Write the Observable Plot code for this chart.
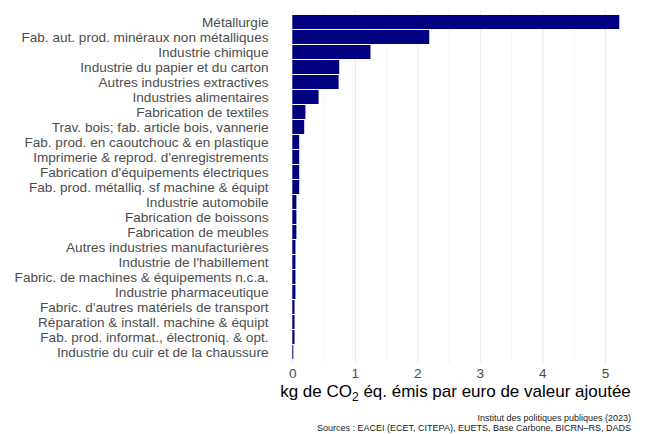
<!DOCTYPE html>
<html>
<head>
<meta charset="utf-8">
<script src="https://cdn.jsdelivr.net/npm/d3@7"></script>
<script src="https://cdn.jsdelivr.net/npm/@observablehq/plot@0.6"></script>
<style>
  body { margin: 0; background: #fff; font-family: "Liberation Sans", Arial, sans-serif; }
  #wrap { position: relative; width: 645px; height: 434px; overflow: hidden; }
  #chart { position: absolute; left: 0; top: 0; }
  #xtitle { position: absolute; left: 276px; width: 359px; top: 381.5px; line-height: 19px; text-align: center; font-size: 17px; color: #000; white-space: nowrap; }
  #xtitle sub { font-size: 12px; vertical-align: -4px; line-height: 0; }
  #caption { position: absolute; right: 14px; top: 412.5px; text-align: right; font-size: 9px; line-height: 10.1px; color: #1a1a1a; white-space: nowrap; }
</style>
</head>
<body>
<div id="wrap">
  <div id="chart"></div>
  <div id="xtitle">kg de CO<sub>2</sub> éq. émis par euro de valeur ajoutée</div>
  <div id="caption">Institut des politiques publiques (2023)<br>Sources : EACEI (ECET, CITEPA), EUETS, Base Carbone, BICRN–RS, DADS</div>
</div>
<script>
const sectors = [
  "Métallurgie",
  "Fab. aut. prod. minéraux non métalliques",
  "Industrie chimique",
  "Industrie du papier et du carton",
  "Autres industries extractives",
  "Industries alimentaires",
  "Fabrication de textiles",
  "Trav. bois; fab. article bois, vannerie",
  "Fab. prod. en caoutchouc & en plastique",
  "Imprimerie & reprod. d'enregistrements",
  "Fabrication d'équipements électriques",
  "Fab. prod. métalliq. sf machine & équipt",
  "Industrie automobile",
  "Fabrication de boissons",
  "Fabrication de meubles",
  "Autres industries manufacturières",
  "Industrie de l'habillement",
  "Fabric. de machines & équipements n.c.a.",
  "Industrie pharmaceutique",
  "Fabric. d'autres matériels de transport",
  "Réparation & install. machine & équipt",
  "Fab. prod. informat., électroniq. & opt.",
  "Industrie du cuir et de la chaussure"
];
const emissions = [5.23, 2.19, 1.25, 0.75, 0.74, 0.42, 0.21, 0.19, 0.11, 0.11, 0.11, 0.11,
  0.065, 0.065, 0.065, 0.05, 0.05, 0.05, 0.05, 0.035, 0.035, 0.035, 0.015];
const majorTicks = [0, 1, 2, 3, 4, 5];
const minorTicks = [0.5, 1.5, 2.5, 3.5, 4.5];

const data = sectors.map((s, i) => ({sector: s, value: emissions[i]}));

const chart = Plot.plot({
  width: 645,
  height: 392,
  marginTop: 11,
  marginBottom: 29,
  marginLeft: 276,
  marginRight: 10,
  style: {fontFamily: '"Liberation Sans", Arial, sans-serif', background: "transparent", overflow: "visible"},
  x: {domain: [-0.261, 5.481], ticks: majorTicks, label: null},
  y: {domain: sectors, paddingInner: 0.1, paddingOuter: 0.15, label: null},
  marks: [
    Plot.ruleX(minorTicks, {stroke: "#ebebeb", strokeWidth: 0.6}),
    Plot.ruleX(majorTicks, {stroke: "#ebebeb", strokeWidth: 1.1}),
    Plot.barX(data, {x: "value", y: "sector", fill: "#000080"}),
    Plot.axisX({ticks: majorTicks, tickFormat: d => String(d), tickSize: 0, tickPadding: 5, fontSize: 13.6, color: "#4d4d4d", label: null}),
    Plot.axisY({tickSize: 0, tickPadding: 8, fontSize: 13.6, color: "#4d4d4d", label: null})
  ]
});
document.getElementById("chart").appendChild(chart);
</script>
</body>
</html>
